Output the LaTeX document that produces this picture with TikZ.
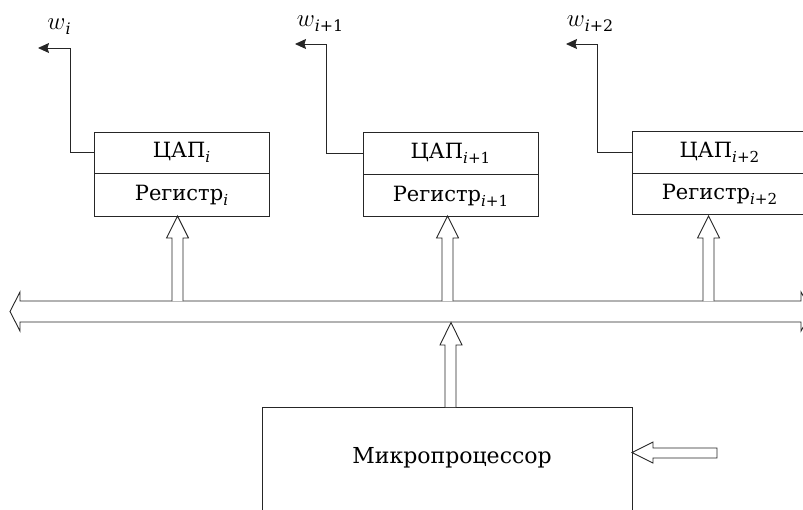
\documentclass[tikz,border=0pt]{standalone}
\usepackage{fontspec}
\setmainfont{DejaVu Serif}
\usetikzlibrary{arrows.meta,calc}
\makeatletter
\newcommand\subs[1]{\raisebox{-0.45ex}{\fontsize{\fpeval{0.72*\f@size}}{1}\selectfont #1}}
\makeatother
\tikzset{
  ln/.style={draw=black!85, line width=0.9pt},
  box/.style={ln, rectangle, minimum width=175pt, inner sep=0pt, font=\fontsize{21}{24}\selectfont},
  hollow/.style={ln, fill=white, line join=miter},
  outarrow/.style={ln, -{Stealth[length=11pt,width=10pt,inset=1.5pt]}},
  lab/.style={font=\fontsize{22}{26}\selectfont, inner sep=0pt}
}
\begin{document}
\begin{tikzpicture}[x=1pt,y=-1pt]
\useasboundingbox (0,0) rectangle (803,509);
% bus
\draw[hollow] (10,311.5) -- (20,292) -- (20,301) -- (801,301) -- (801,292) -- (812,311.5)
  -- (801,331) -- (801,322) -- (20,322) -- (20,331) -- cycle;
% boxes
\node[box, minimum height=41pt] (dac1) at (181.5,152.5) {ЦАП\subs{\textit{i}}};
\node[box, minimum height=43pt, anchor=north] (reg1) at (dac1.south) {Регистр\subs{\textit{i}}};
\node[box, minimum height=42pt] (dac2) at (450.5,153) {ЦАП\subs{\textit{i}+1}};
\node[box, minimum height=42pt, anchor=north] (reg2) at (dac2.south) {Регистр\subs{\textit{i}+1}};
\node[box, minimum height=42pt] (dac3) at (719.5,152) {ЦАП\subs{\textit{i}+2}};
\node[box, minimum height=41pt, anchor=north] (reg3) at (dac3.south) {Регистр\subs{\textit{i}+2}};
% outputs
\coordinate (o1) at (38,48);
\coordinate (o2) at (295,44);
\coordinate (o3) at (566,44);
\draw[outarrow] (dac1.west) -| (70,48) -- (o1);
\draw[outarrow] (dac2.west) -| (326,44) -- (o2);
\draw[outarrow] (dac3.west) -| (597,44) -- (o3);
\node[lab] (w1) at (59,27) {{\fontsize{25}{28}\selectfont$w$}\subs{\textit{i}}};
\node[lab] (w2) at (320,24) {{\fontsize{25}{28}\selectfont$w$}\subs{\textit{i}+1}};
\node[lab] (w3) at (590,24) {{\fontsize{25}{28}\selectfont$w$}\subs{\textit{i}+2}};
% bus -> registers
\foreach \n/\cx in {1/177.5, 2/447.5, 3/708.5}{
  \draw[hollow] (\cx-5.5,301) -- (\cx-5.5,238) -- (\cx-11,238) -- (\cx,{216}) -- (\cx+11,238)
    -- (\cx+5.5,238) -- (\cx+5.5,301);
}
% microprocessor
\node[ln, rectangle, minimum width=370pt, minimum height=130pt, anchor=north west,
  inner sep=0pt] (mp) at (262,407) {};
\node[font=\fontsize{22}{26}\selectfont] (mptext) at (452,458) {Микропроцессор};
% mp -> bus
\draw[hollow] (445,407) -- (445,345) -- (440,345) -- (451,322.5) -- (462,345) -- (456,345) -- (456,407);
% input arrow
\draw[hollow] (717,448) -- (653,448) -- (653,442) -- (632,452.5) -- (653,463) -- (653,458) -- (717,458) -- cycle;
\end{tikzpicture}
\end{document}
